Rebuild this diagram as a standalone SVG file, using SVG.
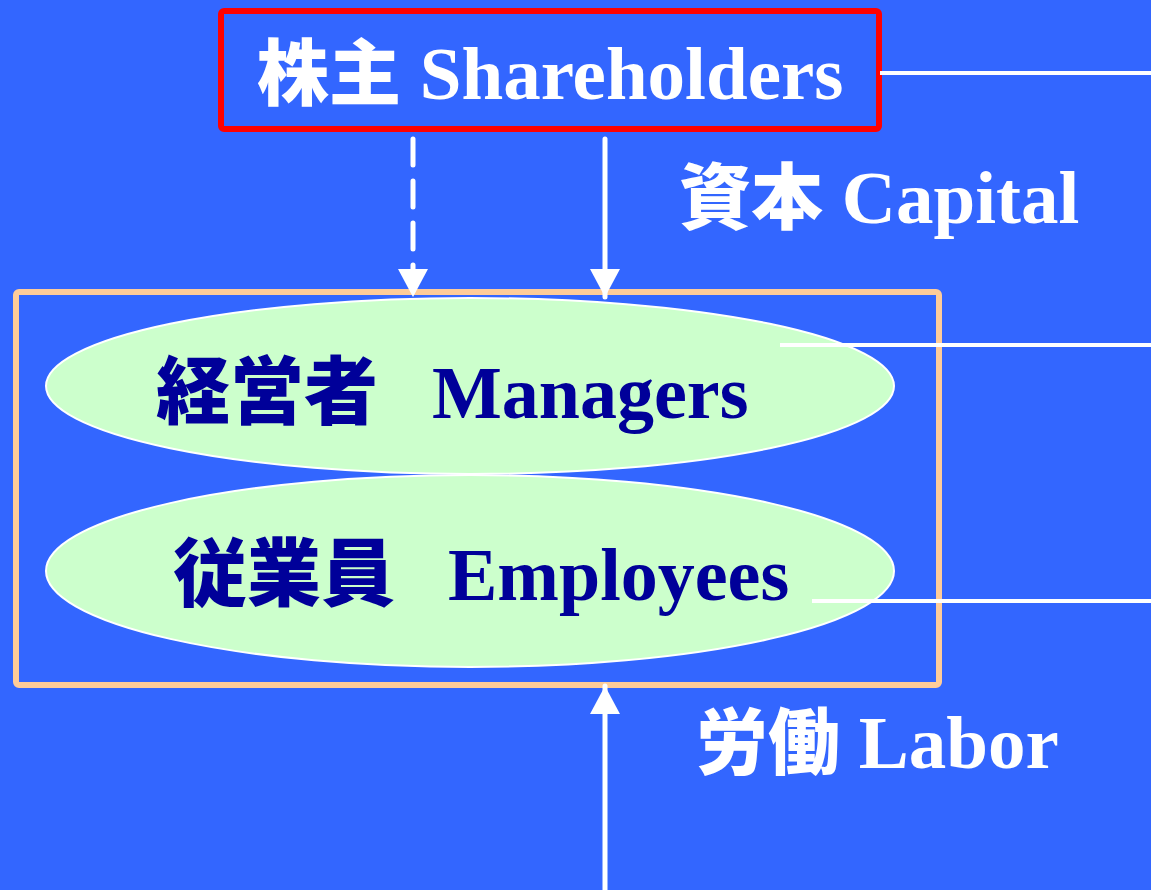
<svg xmlns="http://www.w3.org/2000/svg" width="1151" height="890" viewBox="0 0 1151 890">
<defs>
<style>
.w{fill:#fff;font-family:"Liberation Serif","Noto Sans CJK JP",serif;font-weight:bold;font-size:75px}
.cj{font-family:"Noto Sans CJK JP",sans-serif;font-size:72px;font-weight:900}
.cn{font-family:"Noto Sans CJK JP",sans-serif;font-size:74px;font-weight:900}
.n{fill:#000099;font-family:"Liberation Serif","Noto Sans CJK JP",serif;font-weight:bold;font-size:74px}
.ln{stroke:#fff;stroke-width:4;fill:none}
.ar{stroke:#fff;stroke-width:5;fill:none;stroke-linecap:round}
.el{fill:#CCFFCC;stroke:#fff;stroke-width:2}
</style>
<marker id="ah" viewBox="0 0 28 30" refX="28" refY="15" markerWidth="28" markerHeight="30" markerUnits="userSpaceOnUse" orient="auto">
<path d="M0,0 L28,15 L0,30 Z" fill="#fff"/>
</marker>
</defs>
<rect width="1151" height="890" fill="#3366FF"/>
<g id="shareholders">
<rect x="221" y="11" width="658" height="118" rx="3" fill="none" stroke="#FF0000" stroke-width="6"/>
<text x="257" y="99" class="w"><tspan class="cj">株主</tspan> Shareholders</text>
</g>
<g id="capital-label"><text x="679" y="223" class="w"><tspan class="cj">資本</tspan> Capital</text></g>
<g id="labor-label"><text x="696" y="768" class="w"><tspan class="cj">労働</tspan> Labor</text></g>
<g id="firm">
<rect x="16" y="292" width="923" height="393" rx="3" fill="none" stroke="#FFCC99" stroke-width="6"/>
</g>
<g id="managers">
<ellipse class="el" cx="470" cy="386" rx="424" ry="88"/>
<text x="156" y="418" class="n"><tspan class="cn">経営者</tspan><tspan x="432">Managers</tspan></text>
</g>
<g id="employees">
<ellipse class="el" cx="470" cy="571" rx="424" ry="96"/>
<text x="173" y="600" class="n"><tspan class="cn">従業員</tspan><tspan x="448">Employees</tspan></text>
</g>
<g id="connectors">
<line class="ln" x1="880" y1="73" x2="1151" y2="73"/>
<line class="ln" x1="780" y1="345" x2="1151" y2="345"/>
<line class="ln" x1="812" y1="601" x2="1151" y2="601"/>
<line class="ar" x1="413" y1="139" x2="413" y2="297" stroke-dasharray="26,16" marker-end="url(#ah)"/>
<line class="ar" x1="605" y1="139" x2="605" y2="297" marker-end="url(#ah)"/>
<line class="ar" x1="605" y1="892" x2="605" y2="686" stroke-linecap="butt" marker-end="url(#ah)"/>
</g>
</svg>
